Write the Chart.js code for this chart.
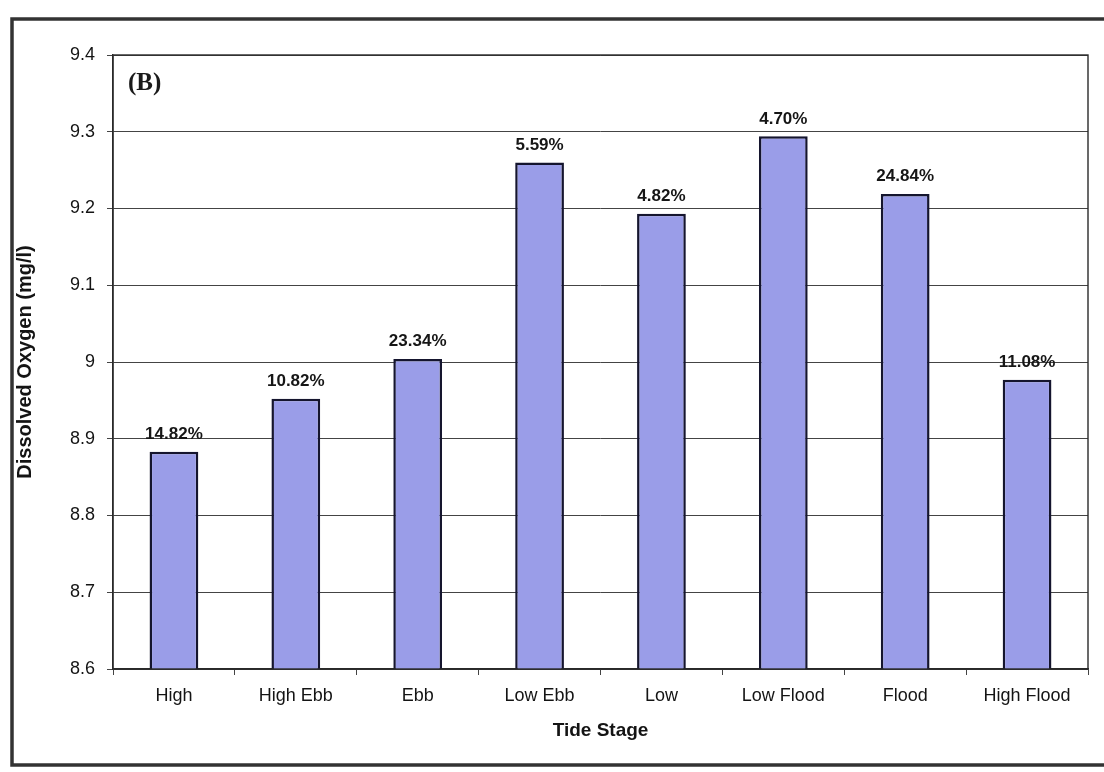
<!DOCTYPE html>
<html>
<head>
<meta charset="utf-8">
<script src="https://cdn.jsdelivr.net/npm/chart.js@4.4.1/dist/chart.umd.min.js"></script>
<style>
  html, body { margin: 0; padding: 0; background: #ffffff; }
  #wrap { width: 1104px; height: 772px; position: relative; }
</style>
</head>
<body>
<div id="wrap"><canvas id="c" width="1104" height="772"></canvas></div>
<script>
// Tide stages and mean dissolved oxygen per stage
const stages = ['High', 'High Ebb', 'Ebb', 'Low Ebb', 'Low', 'Low Flood', 'Flood', 'High Flood'];
const oxygen = [8.883, 8.952, 9.004, 9.260, 9.193, 9.294, 9.219, 8.977];
const shares = ['14.82%', '10.82%', '23.34%', '5.59%', '4.82%', '4.70%', '24.84%', '11.08%'];
const yTicks = { min: 8.6, max: 9.4, step: 0.1 };

const FONT = "'Liberation Sans', Arial, sans-serif";

// Outer frame, panel tag and plot-area border
const framePlugin = {
  id: 'frame',
  beforeDraw(chart) {
    const ctx = chart.ctx;
    ctx.save();
    ctx.fillStyle = '#ffffff';
    ctx.fillRect(0, 0, chart.width, chart.height);
    ctx.strokeStyle = '#333333';
    ctx.lineWidth = 3.5;
    ctx.strokeRect(12, 19, 1110, 746);
    ctx.restore();
  },
  afterDatasetsDraw(chart) {
    const ctx = chart.ctx;
    const a = chart.chartArea;
    ctx.save();
    ctx.strokeStyle = '#2a2a2a';
    ctx.lineWidth = 1.4;
    ctx.strokeRect(a.left, a.top, a.right - a.left, a.bottom - a.top);
    ctx.fillStyle = '#1a1a1a';
    ctx.font = "bold 25px 'Liberation Serif', 'Times New Roman', serif";
    ctx.textAlign = 'left';
    ctx.textBaseline = 'alphabetic';
    ctx.fillText('(B)', a.left + 15, a.top + 35);
    ctx.restore();
  }
};

// Percentage labels above each bar
const shareLabels = {
  id: 'shareLabels',
  afterDatasetsDraw(chart) {
    const ctx = chart.ctx;
    const meta = chart.getDatasetMeta(0);
    ctx.save();
    ctx.fillStyle = '#161616';
    ctx.font = 'bold 17px ' + FONT;
    ctx.textAlign = 'center';
    ctx.textBaseline = 'bottom';
    meta.data.forEach((bar, i) => {
      ctx.fillText(shares[i], bar.x, bar.y - 9);
    });
    ctx.restore();
  }
};

new Chart(document.getElementById('c'), {
  type: 'bar',
  data: {
    labels: stages,
    datasets: [{
      data: oxygen,
      backgroundColor: '#9a9de8',
      borderColor: '#15152e',
      borderWidth: 2.5,
      borderSkipped: false,
      barPercentage: 0.40,
      categoryPercentage: 1.0
    }]
  },
  options: {
    responsive: false,
    animation: false,
    devicePixelRatio: 1,
    layout: { padding: { left: 0, right: 16, top: 55, bottom: 0 } },
    plugins: {
      legend: { display: false },
      tooltip: { enabled: false },
      title: { display: false }
    },
    scales: {
      x: {
        afterFit(s) { s.height = 103; },
        grid: {
          offset: true,
          drawOnChartArea: false,
          drawTicks: true,
          tickLength: 6,
          color: '#444444'
        },
        border: { display: true, color: '#2a2a2a', width: 1.4 },
        ticks: {
          color: '#141414',
          font: { family: FONT, size: 18 },
          padding: 10,
          maxRotation: 0,
          autoSkip: false
        },
        title: {
          display: true,
          text: 'Tide Stage',
          color: '#141414',
          font: { family: FONT, size: 19, weight: 'bold' },
          padding: { top: 0, bottom: 30 }
        }
      },
      y: {
        min: yTicks.min,
        max: yTicks.max,
        afterFit(s) { s.width = 113; },
        grid: {
          color: '#444444',
          lineWidth: 1,
          drawTicks: true,
          tickLength: 6
        },
        border: { display: true, color: '#2a2a2a', width: 1.4 },
        ticks: {
          stepSize: yTicks.step,
          color: '#141414',
          font: { family: FONT, size: 18 },
          padding: 12,
          callback: (v) => String(Number(v.toFixed(1)))
        },
        title: {
          display: true,
          text: 'Dissolved Oxygen (mg/l)',
          color: '#141414',
          font: { family: FONT, size: 20, weight: 'bold' },
          padding: { top: 13, bottom: 0 }
        }
      }
    }
  },
  plugins: [framePlugin, shareLabels]
});
</script>
</body>
</html>
